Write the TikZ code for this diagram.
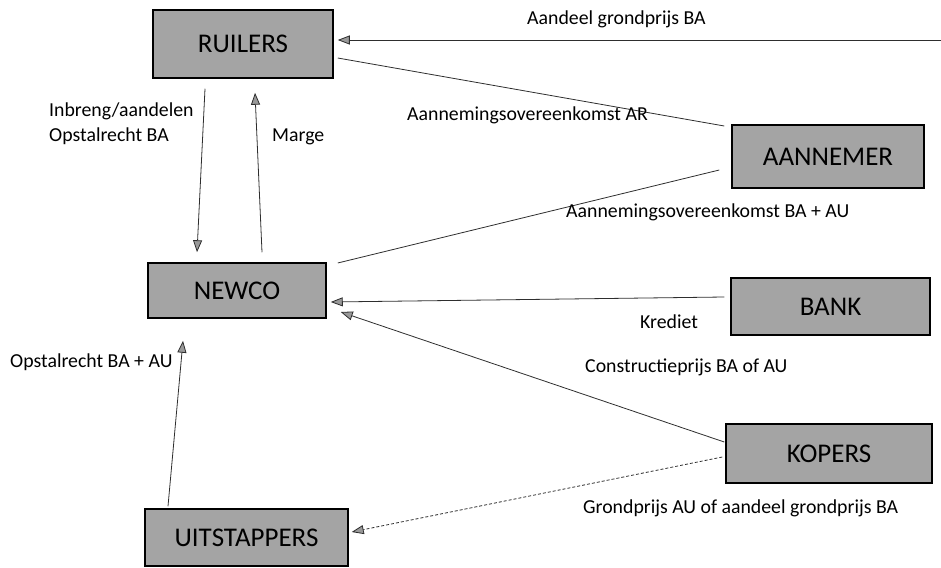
\documentclass[tikz,border=0pt]{standalone}
\usepackage{fontspec}
\setmainfont{Carlito}
\usetikzlibrary{arrows.meta}
\definecolor{boxgray}{HTML}{A4A4A4}
\definecolor{linegray}{HTML}{2E2E2E}
\definecolor{headgray}{HTML}{999999}
\begin{document}
\begin{tikzpicture}[x=1pt,y=-1pt,
  box/.style={draw=black,line width=1.5pt,fill=boxgray,inner sep=0pt,font=\fontsize{27}{32}\selectfont},
  lbl/.style={font=\fontsize{19.8}{25}\selectfont,inner sep=0pt,anchor=west,align=left},
  con/.style={draw=linegray,line width=0.8pt},
  arr/.style={con,-{Triangle[length=12pt,width=9pt,fill=headgray]}}]
\useasboundingbox (0,0) rectangle (941,567);
% boxes
\node[box,minimum width=180pt,minimum height=68pt] (ruilers) at (243,44) {RUILERS};
\node[box,minimum width=178pt,minimum height=55pt] (newco) at (237,290.5) {NEWCO};
\node[box,minimum width=192pt,minimum height=63pt] (aannemer) at (828,156.5) {AANNEMER};
\node[box,minimum width=199pt,minimum height=57pt] (bank) at (830.5,306.5) {BANK};
\node[box,minimum width=206pt,minimum height=59pt] (kopers) at (829,453.5) {KOPERS};
\node[box,minimum width=203pt,minimum height=57pt] (uitstappers) at (246.5,537.5) {UITSTAPPERS};
% connectors
\coordinate (edge) at (941,40);
\draw[arr] (edge) -- ([xshift=4pt,yshift=4pt]ruilers.east);
\draw[con] ([xshift=4pt,yshift=-14pt]ruilers.east) -- ([xshift=-7pt,yshift=30.5pt]aannemer.west);
\draw[con] ([xshift=11pt,yshift=27.5pt]newco.east) -- ([xshift=-12pt,yshift=-13.5pt]aannemer.west);
\draw[arr] ([xshift=-6pt,yshift=9.5pt]bank.west) -- ([xshift=4pt,yshift=-11.5pt]newco.east);
\draw[arr] ([xshift=-1pt,yshift=11.5pt]kopers.west) -- ([xshift=14pt,yshift=-21.5pt]newco.east);
\draw[arr,densely dashed] ([xshift=-3pt,yshift=-3.5pt]kopers.west) -- ([xshift=3pt,yshift=5.5pt]uitstappers.east);
\draw[arr] ([xshift=-38pt,yshift=-10pt]ruilers.south) -- ([xshift=-40pt,yshift=10pt]newco.north);
\draw[arr] ([xshift=25pt,yshift=10pt]newco.north) -- ([xshift=12pt,yshift=-14pt]ruilers.south);
\draw[arr] ([xshift=-78.5pt,yshift=2pt]uitstappers.north) -- ([xshift=-54pt,yshift=-22pt]newco.south);
% labels
\node[lbl] (l1) at (527,19) {Aandeel grondprijs BA};
\node[lbl] (l2) at (407,115) {Aannemingsovereenkomst AR};
\node[lbl] (l3) at (566,212) {Aannemingsovereenkomst BA + AU};
\node[lbl] (l4) at (640,322) {Krediet};
\node[lbl] (l5) at (585,367) {Constructieprijs BA of AU};
\node[lbl] (l6) at (583,508) {Grondprijs AU of aandeel grondprijs BA};
\node[lbl] (l7) at (49,124) {Inbreng/aandelen\\Opstalrecht BA};
\node[lbl] (l8) at (272,137) {Marge};
\node[lbl] (l9) at (10,362) {Opstalrecht BA + AU};
\end{tikzpicture}
\end{document}
